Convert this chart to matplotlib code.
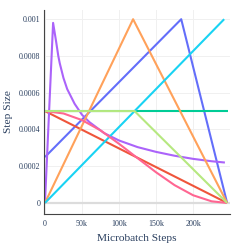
import matplotlib
matplotlib.use("Agg")
import matplotlib.pyplot as plt

# step values in thousands of microbatch steps
steps_blue = [0, 184, 246]
lr_blue = [0.00025, 0.001, 0]

steps_red = [0, 246]
lr_red = [0.0005, 0]

steps_teal = [0, 247]
lr_teal = [0.0005, 0.0005]

steps_purple = [0, 11, 15, 18, 20, 25, 30, 40, 50, 60, 80, 100, 125, 150, 175, 200, 225, 243]
lr_purple = [0, 0.00098, 0.00088, 0.0008, 0.00076, 0.00068, 0.00062, 0.00054, 0.00048,
             0.00044, 0.00038, 0.00034, 0.000304, 0.000278, 0.000257, 0.00024, 0.000227, 0.00022]

steps_orange = [0, 119, 246]
lr_orange = [0, 0.001, 0]

steps_cyan = [0, 242]
lr_cyan = [0, 0.001]

steps_pink = [0, 25, 50, 75, 100, 125, 150, 175, 200, 225, 246]
lr_pink = [0.0005, 0.000487, 0.000451, 0.000395, 0.000322, 0.000244,
           0.000167, 0.000097, 0.000042, 0.000009, 0]

steps_green = [0, 121, 246]
lr_green = [0.0005, 0.0005, 0]

series = [
    (steps_blue, lr_blue, "#636EFA"),
    (steps_red, lr_red, "#EF553B"),
    (steps_teal, lr_teal, "#00CC96"),
    (steps_purple, lr_purple, "#AB63FA"),
    (steps_orange, lr_orange, "#FFA15A"),
    (steps_cyan, lr_cyan, "#19D3F3"),
    (steps_pink, lr_pink, "#FF6692"),
    (steps_green, lr_green, "#B6E880"),
]

x_ticks = [0, 50, 100, 150, 200]
x_labels = ["0", "50k", "100k", "150k", "200k"]
y_ticks = [0, 0.0002, 0.0004, 0.0006, 0.0008, 0.001]
y_labels = ["0", "0.0002", "0.0004", "0.0006", "0.0008", "0.001"]

text_col = "#2a3f5f"
font = "Liberation Serif"

fig = plt.figure(figsize=(2.44, 2.44), dpi=100)
ax = fig.add_axes([0.180, 0.123, 0.763, 0.836])

ax.grid(True, color="#f0f0f0", linewidth=0.7)
ax.set_axisbelow(True)
ax.axhline(0, color="#dcdcdc", linewidth=1.6, zorder=1)

for xs, ys, c in series:
    ax.plot([x * 1000 for x in xs], ys, color=c, linewidth=1.5,
            solid_joinstyle="round", solid_capstyle="butt", zorder=2)

ax.set_xlim(-1400, 250000)
ax.set_ylim(-0.00006, 0.00105)
ax.set_xticks([x * 1000 for x in x_ticks])
ax.set_xticklabels(x_labels)
ax.set_yticks(y_ticks)
ax.set_yticklabels(y_labels)
ax.tick_params(axis="x", length=0, pad=4.5, labelsize=5.8, labelcolor=text_col)
ax.tick_params(axis="y", length=0, pad=2.5, labelsize=5.8, labelcolor=text_col)
for lab in ax.get_xticklabels() + ax.get_yticklabels():
    lab.set_fontfamily(font)

for side in ["top", "right"]:
    ax.spines[side].set_visible(False)
for side in ["left", "bottom"]:
    ax.spines[side].set_color("#444444")
    ax.spines[side].set_linewidth(0.8)

ax.set_xlabel("Microbatch Steps", fontsize=8.2, color=text_col, family=font, labelpad=4)
ax.set_ylabel("Step Size", fontsize=8.2, color=text_col, family=font, labelpad=4)

fig.savefig("out.png", dpi=100)
